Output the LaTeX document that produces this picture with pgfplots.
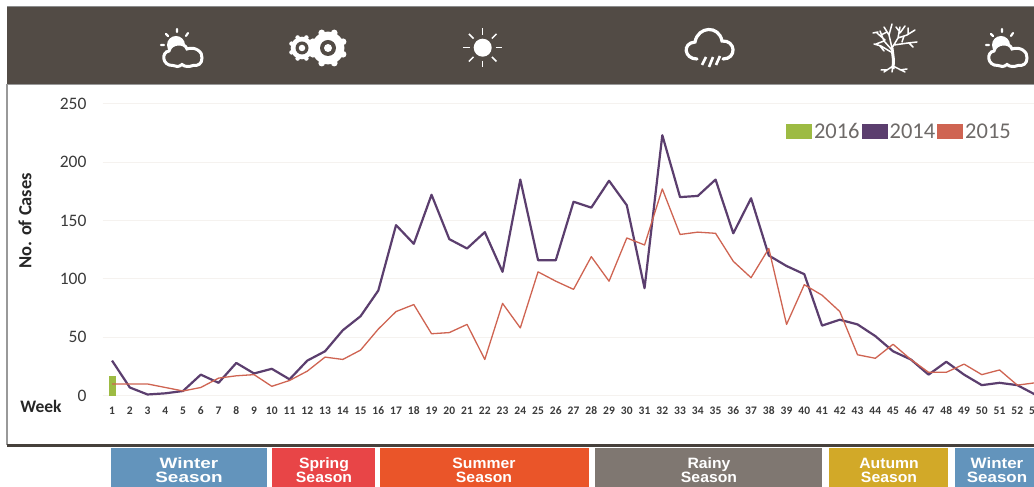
\documentclass[border=0pt]{standalone}
\usepackage{fontspec}
\setmainfont{Carlito}
\newfontfamily\seasonfont{Liberation Sans}[BoldFont=* Bold]
\usepackage{pgfplots}
\usepackage{pgfplotstable}
\pgfplotsset{compat=1.18}
\definecolor{band}{HTML}{524B45}
\definecolor{p14}{HTML}{5B3E6E}
\definecolor{r15}{HTML}{CF6452}
\definecolor{g16}{HTML}{9DBB43}
\definecolor{legtxt}{HTML}{6E6A68}
\definecolor{axtxt}{HTML}{3A3A3A}
\definecolor{gridc}{HTML}{F5F2EF}
\definecolor{cwin}{HTML}{6394BC}
\definecolor{cspr}{HTML}{E84547}
\definecolor{csum}{HTML}{EA5529}
\definecolor{crai}{HTML}{7F7771}
\definecolor{caut}{HTML}{D2A928}
\pgfplotstableread{
w a b
1 30 10
2 7 10
3 1 10
4 2 7
5 4 4
6 18 7
7 11 15
8 28 17
9 19 18
10 23 8
11 14 13
12 30 21
13 38 33
14 56 31
15 68 39
16 90 57
17 146 72
18 130 78
19 172 53
20 134 54
21 126 61
22 140 31
23 106 79
24 185 58
25 116 106
26 116 98
27 166 91
28 161 119
29 184 98
30 163 135
31 92 129
32 223 177
33 170 138
34 171 140
35 185 139
36 139 115
37 169 101
38 120 126
39 111 61
40 104 95
41 60 86
42 65 72
43 61 35
44 51 32
45 38 44
46 31 31
47 18 20
48 29 20
49 18 27
50 9 18
51 11 22
52 9 9
53 1 11
}\cases
\newcommand{\season}[4]{%
  \node[anchor=base,text=white,xscale=#4,inner sep=0pt,font=\seasonfont\bfseries\fontsize{15}{15}\selectfont] at (#1,469) {#2};
  \node[anchor=base,text=white,xscale=#4,inner sep=0pt,font=\seasonfont\bfseries\fontsize{15}{15}\selectfont] at (#1,483) {#3};
}
\newcommand{\cloudsun}{%
  \fill[white] (176,45) circle (9);
  \draw[white,line width=2.2,line cap=round] (161,45)--(164,45) (166,34)--(168,36) (177,29)--(177,32) (188,33)--(186,36);
  \draw[white,line width=3,fill=band] (173,65.5) .. controls (162,66) and (161,52) .. (169,51) .. controls (171,42) and (185,42) .. (187,49) .. controls (195,46) and (203,52) .. (202,58) .. controls (202,64) and (198,66) .. (193,65.5) .. controls (189,67) and (185,67) .. (182,64.5) .. controls (179,67) and (176,67) .. (173,65.5) -- cycle;
}
\newcommand{\gear}[4]{% x y r hole
  \fill[white] (#1,#2) circle (#3*0.84);
  \foreach \ang in {0,45,...,315}{
    \fill[white] (#1,#2) ++(\ang+22.5:#3*0.84) circle (#3*0.17);
  }
  \fill[band] (#1,#2) circle (#4);
  \fill[white] (#1,#2) circle (#4*0.5);
}
\begin{document}
\begin{tikzpicture}
\useasboundingbox (0,0) rectangle (1034pt,487pt);
\clip (0,0) rectangle (1034pt,487pt);
\begin{scope}[x=1pt,y=-1pt,yshift=487pt]
  \fill[white] (0,0) rectangle (1034,487);
  \fill[band] (7,7) rectangle (1034,84);
  \draw[black!45,line width=0.7] (7,6.7)--(1034,6.7);
  \draw[black!40,line width=0.7] (7,84)--(1034,84);
  \draw[black!40,line width=1.2] (7,84)--(7,445);
  \fill[band!85!black] (7,444.5) rectangle (1034,447.5);
  % seasons
  \fill[cwin] (111,448) rectangle (267,487);
  \fill[cspr] (272,448) rectangle (375,487);
  \fill[csum] (380,448) rectangle (589,487);
  \fill[crai] (595,448) rectangle (822,487);
  \fill[caut] (829,448) rectangle (948,487);
  \fill[cwin] (955,448) rectangle (1034,487);
  \season{189}{Winter}{Season}{1.26}
  \season{324}{Spring}{Season}{1.05}
  \season{484}{Summer}{Season}{1.05}
  \season{709}{Rainy}{Season}{1.05}
  \season{889}{Autumn}{Season}{1.05}
  \season{997}{Winter}{Season}{1.13}
  \node[anchor=base,font=\bfseries\fontsize{17.5}{17.5}\selectfont,text=black!85,inner sep=0pt] at (41,413) {Week};
  % icons
  \cloudsun
  \begin{scope}[shift={(825,0)}]\cloudsun\end{scope}
  \gear{328}{48}{19.5}{8}
  \gear{302}{48}{13.5}{6.5}
  % sun
  \fill[white] (482.7,47.7) circle (9);
  \foreach \ang in {0,45,...,315}{
    \draw[white,line width=1.5] (482.7,47.7) ++(\ang:13) -- ++(\ang:6.5);
  }
  % rain cloud
  \draw[white,line width=3.2,line cap=round] (697,59) .. controls (684,59) and (682,43) .. (695,42) .. controls (698,26) and (719,25) .. (722,41) .. controls (736,40) and (737,59) .. (723,59);
  \draw[white,line width=2.6] (702,65)--(706,57) (709,67)--(713,57) (716,65)--(720,56);
  % tree
  \draw[white,line width=3] (893,69)--(893.5,60)--(892,48);
  \draw[white,line width=1.5,line cap=round] (892,50)--(884,41)--(876,44) (884,41)--(880,31) (892,48)--(889,35)--(884,27) (889,35)--(892,24)
    (892,48)--(898,38)--(900,27) (898,38)--(907,35)--(915,30) (894,45)--(908,43)--(917,42) (891,52)--(881,46)--(874,44) (885,40)--(877,33) (900,33)--(905,26)
    (878,32)--(873,33) (881,35)--(887,32) (904,36)--(902,42) (909,43)--(913,47) (880,46)--(884,51) (896,27)--(899,31) (908,34)--(908,28)
    (893,66)--(884,72) (893,66)--(905,72) (893,66)--(892,72) (887,70)--(881,70) (900,70)--(907,69);
\end{scope}
\begin{axis}[
  at={(103pt,85.5pt)},anchor=south west,
  x=17.75pt,y=1.168pt,
  xmin=0.49,xmax=53.5,ymin=-5,ymax=255,
  axis line style={draw=none},
  tick style={draw=none},
  ytick={0,50,100,150,200,250},
  xtick={1,...,53},
  ymajorgrids,
  grid style={gridc,line width=0.8pt},
  /pgf/number format/assume math mode=true,
  ticklabel style={text=axtxt},
  yticklabel style={font=\fontsize{17.5}{17.5}\selectfont,anchor=east,xshift=-13pt},
  xticklabel style={font=\bfseries\fontsize{11.5}{11.5}\selectfont,anchor=base,text height=8pt,text depth=0pt,yshift=-13pt},
  ylabel={No. of Cases},
  ylabel style={font=\bfseries\fontsize{18.5}{18.5}\selectfont,text=black!85,at={(axis description cs:-0.083,0.595)},anchor=center},
  legend style={draw=none,fill=none,
    at={(683pt,280pt)},anchor=north west,
    legend columns=3,font=\fontsize{22.5}{22.5}\selectfont,text=legtxt,
    inner sep=0pt,outer sep=0pt,
    /tikz/every even column/.style={column sep=0pt}},
  legend image code/.code={\fill[#1,draw=none] (0pt,-7.5pt) rectangle (26pt,7.5pt);},
  legend cell align=left,
]
\addplot[ybar,bar width=7pt,fill=g16,draw=none,bar shift=0pt] coordinates {(1,17)};
\addlegendentry{2016}
\addplot[p14,line width=2.2pt,line join=round] table[x=w,y=a]{\cases};
\addlegendentry{2014}
\addplot[r15,line width=1.3pt,line join=round] table[x=w,y=b]{\cases};
\addlegendentry{2015}
\end{axis}
\end{tikzpicture}
\end{document}
